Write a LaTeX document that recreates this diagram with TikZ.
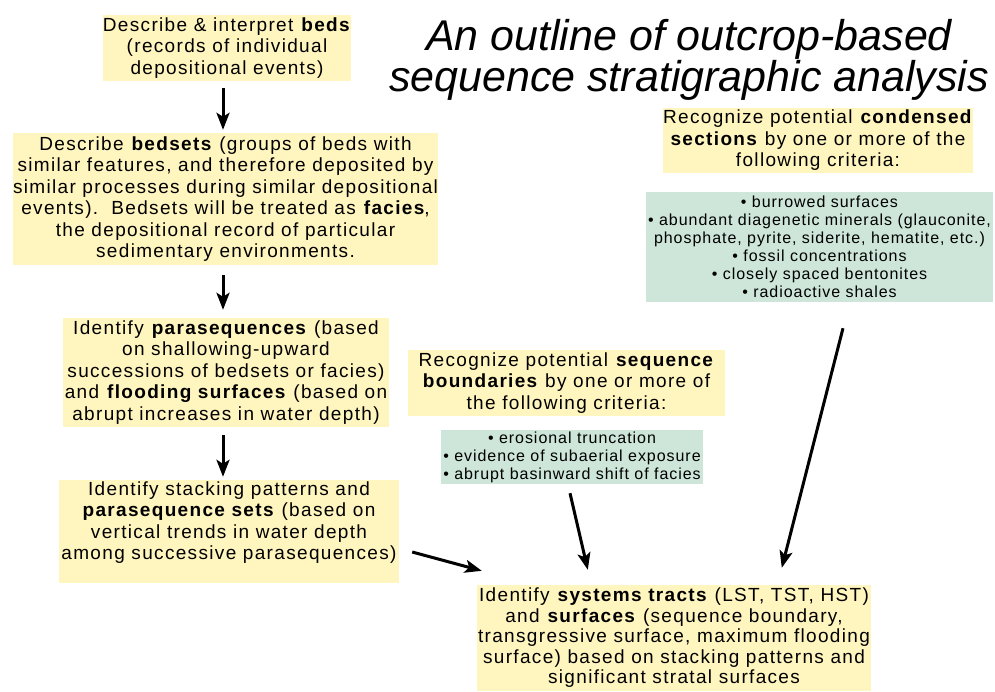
\documentclass[tikz,border=0pt]{standalone}
\usepackage{fontspec}
\setmainfont{Liberation Sans}
\newfontfamily\boxfont[LetterSpace=7]{Liberation Sans}
\newfontfamily\listfont[LetterSpace=6]{Liberation Sans}
\usepackage{tikz}
\usetikzlibrary{arrows.meta}

\definecolor{boxyellow}{HTML}{FFF6BF}
\definecolor{boxgreen}{HTML}{CDE6D9}

\tikzset{
  yelbox/.style={fill=boxyellow, inner sep=0pt, align=center,
    font=\boxfont\fontsize{19}{21.5}\selectfont},
  grnbox/.style={fill=boxgreen, inner sep=0pt, align=center,
    font=\listfont\fontsize{16}{18}\selectfont},
  flow/.style={line width=3pt, -{Stealth[length=17pt,width=13pt,inset=4pt]}}
}

\begin{document}
\begin{tikzpicture}[x=1pt,y=-1pt]
   \useasboundingbox (0,0) rectangle (995,691);
   \node[align=center, font=\itshape\fontsize{43}{40}\selectfont] (title) at (689,60)
      {An outline of outcrop-based\\sequence stratigraphic analysis};
   \node[yelbox, minimum width=248, minimum height=66] (beds) at (227,48)
      {Describe \& interpret \textbf{beds}\\(records of individual\\depositional events)};
   \node[yelbox, minimum width=425, minimum height=132] (bedsets) at (225.5,199)
      {Describe \textbf{bedsets} (groups of beds with\\similar features, and therefore deposited by\\similar processes during similar depositional\\events).~~Bedsets will be treated as \textbf{facies},\\the depositional record of particular\\sedimentary environments.};
   \node[yelbox, minimum width=326, minimum height=109] (paraseq) at (226,372.5)
      {Identify \textbf{parasequences} (based\\on shallowing-upward\\successions of bedsets or facies)\\and \textbf{flooding surfaces} (based on\\abrupt increases in water depth)};
   \node[yelbox, minimum width=340, minimum height=103] (stacking) at (229,531.5)
      {Identify stacking patterns and\\\textbf{parasequence sets} (based on\\vertical trends in water depth\\among successive parasequences)\\\mbox{}};
   \node[yelbox, minimum width=394, minimum height=106, font=\boxfont\fontsize{19}{20.5}\selectfont] (tracts) at (674,638)
      {Identify \textbf{systems tracts} (LST, TST, HST)\\and \textbf{surfaces} (sequence boundary,\\transgressive surface, maximum flooding\\surface) based on stacking patterns and\\significant stratal surfaces};
   \node[yelbox, minimum width=317, minimum height=66] (sbtext) at (566.5,383)
      {Recognize potential \textbf{sequence}\\\textbf{boundaries} by one or more of\\the following criteria:};
   \node[grnbox, minimum width=262, minimum height=54] (sblist) at (572,457)
      {\textbullet{} erosional truncation\\\textbullet{} evidence of subaerial exposure\\\textbullet{} abrupt basinward shift of facies};
   \node[yelbox, minimum width=310, minimum height=65] (cstext) at (818,140.5)
      {Recognize potential \textbf{condensed}\\\textbf{sections} by one or more of the\\following criteria:};
   \node[grnbox, minimum width=347, minimum height=110] (cslist) at (819.5,247)
      {\textbullet{} burrowed surfaces\\\textbullet{} abundant diagenetic minerals (glauconite,\\phosphate, pyrite, siderite, hematite, etc.)\\\textbullet{} fossil concentrations\\\textbullet{} closely spaced bentonites\\\textbullet{} radioactive shales};
   \draw[flow] ([shift={(-4,7)}]beds.south) -- ([shift={(-2.5,-3)}]bedsets.north);
   \draw[flow] ([shift={(-2.5,10)}]bedsets.south) -- ([shift={(-3,-8)}]paraseq.north);
   \draw[flow] ([shift={(-3,8)}]paraseq.south) -- ([shift={(-6,-3)}]stacking.north);
   \draw[flow] ([shift={(13,20.5)}]stacking.east) -- ([shift={(5,-14)}]tracts.north west);
   \draw[flow] ([shift={(-2,9)}]sblist.south) -- ([shift={(111,-15)}]tracts.north west);
   \draw[flow] ([shift={(23.5,26)}]cslist.south) -- ([shift={(305,-17)}]tracts.north west);
\end{tikzpicture}
\end{document}
